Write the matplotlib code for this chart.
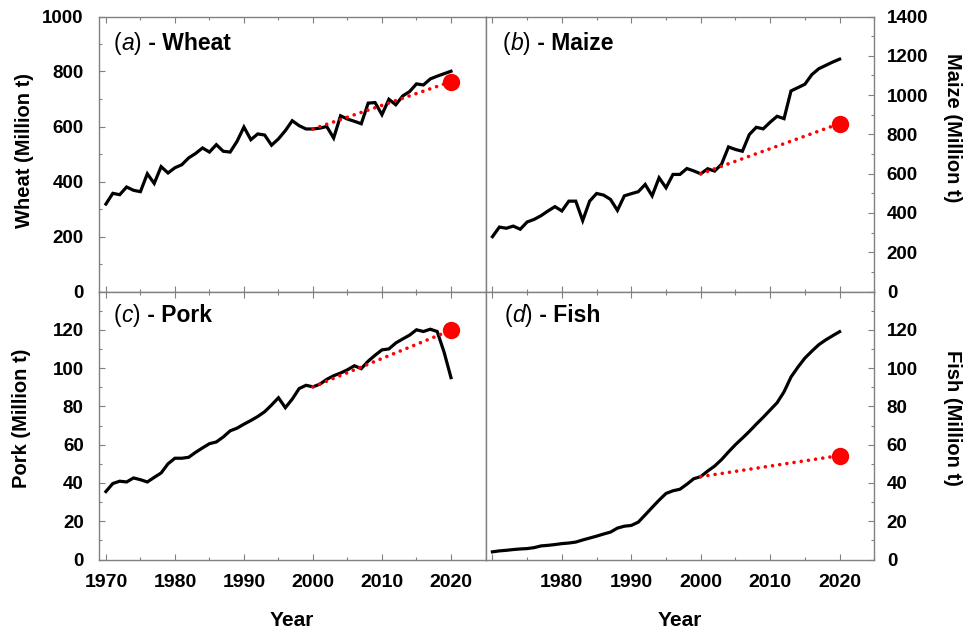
import matplotlib
matplotlib.use("Agg")
import matplotlib.pyplot as plt
from matplotlib.ticker import MultipleLocator, FixedLocator

# ---------------- data ----------------
years = list(range(1970, 2021))

wheat = [318, 357, 352, 380, 368, 363, 428, 393, 454, 431,
         450, 461, 486, 502, 522, 507, 534, 510, 507, 546,
         598, 552, 573, 569, 532, 555, 585, 621, 603, 591,
         591, 594, 600, 558, 639, 627, 619, 610, 685, 687,
         643, 699, 679, 711, 727, 755, 751, 773, 783, 792,
         801]

maize = [279, 328, 322, 333, 317, 354, 367, 386, 410, 432,
         410, 460, 460, 361, 460, 499, 491, 469, 413, 487,
         498, 508, 545, 487, 579, 528, 596, 596, 626, 614,
         599, 625, 613, 648, 736, 723, 714, 799, 836, 828,
         862, 892, 880, 1021, 1038, 1055, 1104, 1134, 1151, 1168,
         1183]

pork = [35.5, 39.7, 40.9, 40.5, 42.6, 41.7, 40.5, 42.9, 45.2, 50.0,
        52.9, 52.9, 53.4, 56.0, 58.3, 60.5, 61.4, 64.0, 67.2, 68.6,
        70.7, 72.6, 74.7, 77.2, 80.7, 84.5, 79.3, 83.8, 89.3, 91.0,
        90.2, 91.6, 94.1, 96.0, 97.4, 99.1, 101.2, 99.7, 103.6, 106.7,
        109.5, 110.0, 113.1, 115.2, 117.2, 120.0, 119.1, 120.3, 119.1, 108.3,
        95.0]

fish = [4.0, 4.5, 4.8, 5.2, 5.5, 5.7, 6.2, 7.1, 7.4, 7.8,
        8.3, 8.6, 9.1, 10.2, 11.2, 12.2, 13.3, 14.3, 16.4, 17.4,
        17.8, 19.5, 23.3, 27.2, 31.0, 34.5, 35.9, 36.7, 39.3, 42.2,
        43.3, 46.2, 48.8, 52.2, 56.2, 60.0, 63.4, 66.9, 70.7, 74.3,
        78.1, 81.9, 87.6, 95.3, 100.5, 105.2, 108.8, 112.2, 114.7, 116.9,
        119.0]

proj_years = [2000, 2020]
wheat_proj = [591, 763]
maize_proj = [599, 855]
pork_proj = [90.2, 119.8]
fish_proj = [43.3, 54.3]

panel_letters = ["a", "b", "c", "d"]
panel_names = ["Wheat", "Maize", "Pork", "Fish"]
ylabels = ["Wheat (Million t)", "Maize (Million t)", "Pork (Million t)", "Fish (Million t)"]

# ---------------- style ----------------
FONT = "Liberation Sans"
plt.rcParams["font.family"] = [FONT, "DejaVu Sans"]
SPINE = "#808080"

W, H = 971, 631
fig = plt.figure(figsize=(W / 100, H / 100), dpi=100)

def fx(px):
    return px / W

def fy(py):
    return 1 - py / H

L, M, R = 99, 485.5, 874.3
T, MID, B = 16.5, 291.5, 559.5

ax_a = fig.add_axes([fx(L), fy(MID), fx(M) - fx(L), fy(T) - fy(MID)])
ax_b = fig.add_axes([fx(M), fy(MID), fx(R) - fx(M), fy(T) - fy(MID)])
ax_c = fig.add_axes([fx(L), fy(B), fx(M) - fx(L), fy(MID) - fy(B)])
ax_d = fig.add_axes([fx(M), fy(B), fx(R) - fx(M), fy(MID) - fy(B)])
axes = [ax_a, ax_b, ax_c, ax_d]
series = [wheat, maize, pork, fish]
projs = [wheat_proj, maize_proj, pork_proj, fish_proj]
ylims = [(0, 1000), (0, 1400), (0, 140), (0, 140)]
ymajor = [200, 200, 20, 20]
yminor = [100, 100, 10, 10]

for i, ax in enumerate(axes):
    ax.plot(years, series[i], color="black", lw=2.3, solid_joinstyle="miter", zorder=3)
    ax.plot(proj_years, projs[i], color="red", lw=2.6, linestyle=(0, (0.01, 2.0)),
            dash_capstyle="round", zorder=4)
    ax.plot([proj_years[-1]], [projs[i][-1]], "o", color="red", ms=12.5, mec="none", zorder=5)
    ax.set_xlim(1969, 2025)
    ax.set_ylim(*ylims[i])
    for s in ax.spines.values():
        s.set_color(SPINE)
        s.set_linewidth(1.0)
    ax.xaxis.set_major_locator(MultipleLocator(10))
    ax.xaxis.set_minor_locator(MultipleLocator(5))
    ax.yaxis.set_major_locator(MultipleLocator(ymajor[i]))
    ax.yaxis.set_minor_locator(MultipleLocator(yminor[i]))
    ax.tick_params(which="both", direction="in", color=SPINE, width=0.8,
                   top=True, bottom=True)
    ax.tick_params(which="major", length=4.5)
    ax.tick_params(which="minor", length=2.5)
    ax.tick_params(axis="x", pad=10.5, labelsize=14)
    ax.tick_params(axis="y", labelsize=13.5)
    right = i in (1, 3)
    if right:
        ax.tick_params(axis="y", which="both", left=False, right=True,
                       labelleft=False, labelright=True, pad=9)
    else:
        ax.tick_params(axis="y", which="both", left=True, right=False,
                       labelleft=True, labelright=False, pad=11)
    if i < 2:
        ax.tick_params(axis="x", labelbottom=False)
    else:
        if right:
            ax.xaxis.set_major_locator(FixedLocator([1970, 1980, 1990, 2000, 2010, 2020]))
            ax.set_xticklabels(["", "1980", "1990", "2000", "2010", "2020"])
    if i >= 2:
        ax.yaxis.set_major_locator(FixedLocator([0, 20, 40, 60, 80, 100, 120]))
    for lab in ax.get_xticklabels() + ax.get_yticklabels():
        lab.set_fontweight("bold")

# axis labels
fig.text(fx(25), fy(150), ylabels[0], rotation=90, ha="center", va="center",
         fontsize=14.5, fontweight="bold")
fig.text(fx(952), fy(128), ylabels[1], rotation=-90, ha="center", va="center",
         fontsize=14.5, fontweight="bold")
fig.text(fx(22), fy(418), ylabels[2], rotation=90, ha="center", va="center",
         fontsize=14.5, fontweight="bold")
fig.text(fx(952), fy(418), ylabels[3], rotation=-90, ha="center", va="center",
         fontsize=14.5, fontweight="bold")
fig.text(fx((L + M) / 2), fy(620), "Year", ha="center", va="center",
         fontsize=15, fontweight="bold")
fig.text(fx((M + R) / 2), fy(620), "Year", ha="center", va="center",
         fontsize=15, fontweight="bold")

# panel titles: "(a) - Wheat" with italic letter
fig.canvas.draw()
renderer = fig.canvas.get_renderer()
title_pos = [(114, 50), (503, 50), (114, 322), (505, 322)]
for i, ax in enumerate(axes):
    x0, yb = title_pos[i]
    pieces = [("(", "normal", "normal"), (panel_letters[i], "italic", "normal"),
              (")", "normal", "normal"), (" - " + panel_names[i], "normal", "bold")]
    x = x0
    for txt, style, weight in pieces:
        t = fig.text(fx(x), fy(yb), txt, ha="left", va="baseline", fontsize=16.5,
                     fontstyle=style, fontweight=weight)
        bb = t.get_window_extent(renderer)
        x += bb.width

fig.savefig("out.png", dpi=100)
